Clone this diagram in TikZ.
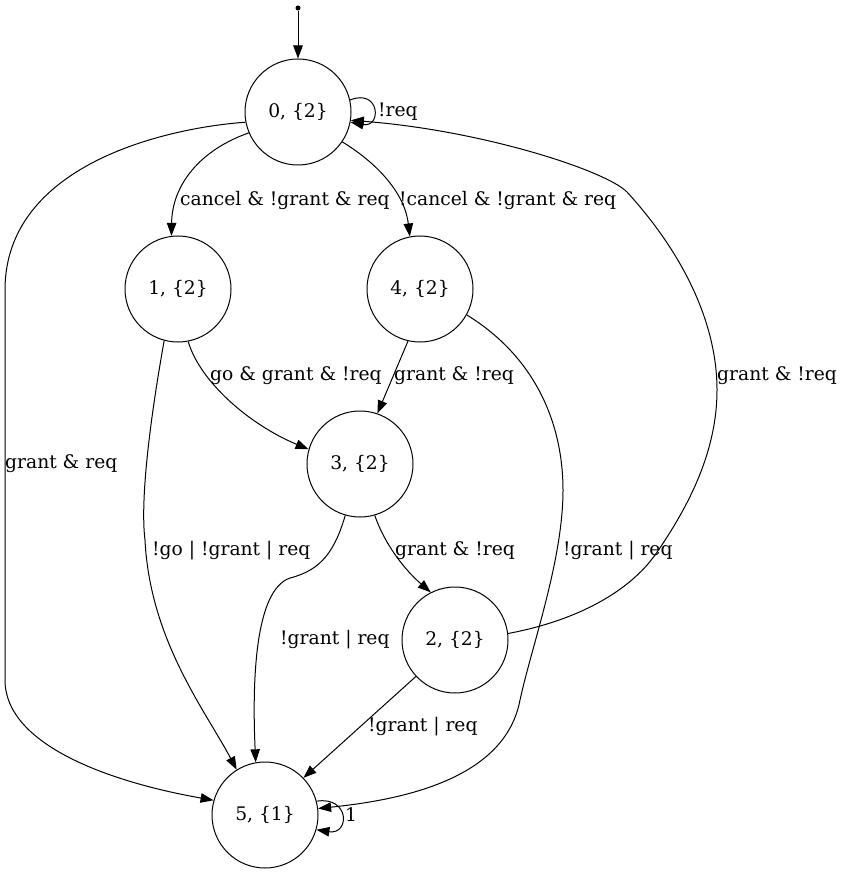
\documentclass[tikz,border=0pt]{standalone}
\usepackage{fontspec}
\setmainfont{DejaVu Serif}
\usetikzlibrary{arrows.meta}
\begin{document}
\begin{tikzpicture}[x=1pt,y=-1pt,
  every node/.style={font=\fontsize{18.7}{22}\selectfont},
  state/.style={circle,draw,line width=1pt,minimum size=106pt,inner sep=0pt},
  lbl/.style={anchor=west,inner sep=0pt},
  edge/.style={line width=1pt,-{Triangle[length=13pt,width=9.5pt]}},
  plain/.style={line width=1pt}]
\useasboundingbox (0,0) rectangle (844,874);

% states
\node[circle,fill,inner sep=0pt,minimum size=5pt] (init) at (298,8) {};
\node[state] (n0) at (298,112) {0, \{2\}};
\node[state] (n1) at (178,289) {1, \{2\}};
\node[state] (n4) at (420,289) {4, \{2\}};
\node[state] (n3) at (360,464) {3, \{2\}};
\node[state] (n2) at (455,640) {2, \{2\}};
\node[state] (n5) at (265,815) {5, \{1\}};

% initial arrow
\draw[edge] (init) -- (n0.north);

% self loops
\draw[edge] (n0.13) .. controls (380,88) and (382,128) .. (n0.-11);
\draw[edge] (n5.15) .. controls (350,796) and (350,835) .. (n5.-16);

% transitions
\draw[edge] (n0.191) .. controls (165,128) and (5,165) .. (5,290)
  -- (5,680) .. controls (5,745) and (110,782) .. (n5.164);
\draw[edge] (n0.203) .. controls (200,150) and (172,185) .. (n1.97);
\draw[edge] (n0.326) .. controls (380,165) and (405,195) .. (n4.101);
\draw[edge] (n1.281) .. controls (200,382) and (250,425) .. (n3.164);
\draw[edge] (n1.255) .. controls (150,420) and (140,500) .. (145,540)
  .. controls (150,640) and (205,710) .. (n5.122);
\draw[edge] (n4.257) -- (n3.71);
\draw[edge] (n4.331) .. controls (540,360) and (563,430) .. (563,490)
  .. controls (563,560) and (532,645) .. (520,700)
  .. controls (505,780) and (400,800) .. (n5.7);
\draw[edge] (n3.286) .. controls (385,545) and (405,570) .. (n2.117);
\draw[edge] (n3.254) .. controls (335,550) and (322,570) .. (290,578)
  .. controls (255,590) and (252,680) .. (n5.100);
\draw[edge] (n2.223) -- (n5.44);
\draw[edge] (n2.7) .. controls (580,620) and (630,590) .. (655,555)
  .. controls (690,505) and (717,450) .. (717,390)
  .. controls (717,320) and (680,250) .. (627,192)
  .. controls (605,170) and (480,130) .. (n0.351);

% transition labels
\node[lbl] (l00) at (378,112) {!req};
\node[lbl] (l55) at (345,815) {1};
\node[lbl] (l05) at (5,464) {grant \& req};
\node[lbl] (l01) at (180,200) {cancel \& !grant \& req};
\node[lbl] (l04) at (399,200) {!cancel \& !grant \& req};
\node[lbl] (l13) at (210,376) {go \& grant \& !req};
\node[lbl] (l43) at (394,376) {grant \& !req};
\node[lbl] (l20) at (717,376) {grant \& !req};
\node[lbl] (l15) at (152,551) {!go | !grant | req};
\node[lbl] (l32) at (395,551) {grant \& !req};
\node[lbl] (l45) at (563,551) {!grant | req};
\node[lbl] (l35) at (280,640) {!grant | req};
\node[lbl] (l25) at (368,727) {!grant | req};
\end{tikzpicture}
\end{document}
